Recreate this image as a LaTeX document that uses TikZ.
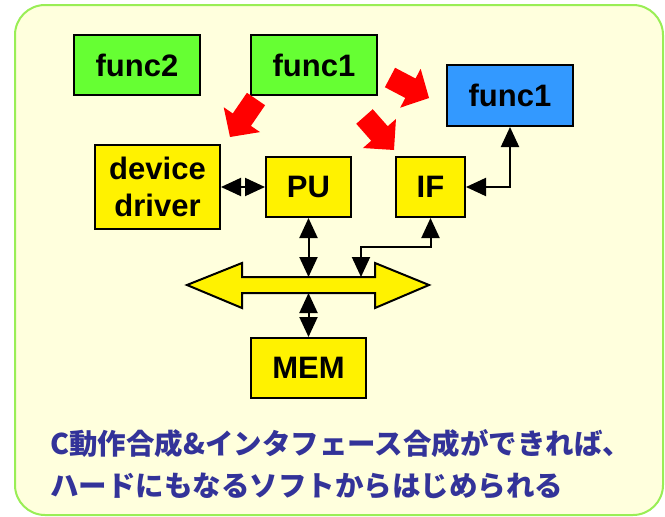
\documentclass[tikz,border=0pt]{standalone}
\usepackage{fontspec}
\setmainfont{Liberation Sans}
\newfontfamily\cjk{Noto Sans CJK JP}
\usetikzlibrary{arrows.meta,calc}
\definecolor{bgyellow}{HTML}{FFFFDD}
\definecolor{frame}{HTML}{99EE55}
\definecolor{fgreen}{HTML}{66FF33}
\definecolor{fblue}{HTML}{3399FF}
\definecolor{jblue}{HTML}{333399}
\newcommand\myredarrow[2]{%
  \coordinate (#1b) at ($(#1p)!#2!(#1t)$);
  \fill[redarr] ($(#1t)!11pt!90:(#1p)$) -- ($(#1b)!11pt!90:(#1p)$) -- ($(#1b)!22pt!90:(#1p)$) -- (#1p) -- ($(#1b)!22pt!-90:(#1p)$) -- ($(#1b)!11pt!-90:(#1p)$) -- ($(#1t)!11pt!-90:(#1p)$) -- cycle;}
\tikzset{
  box/.style={draw=black, line width=2pt, inner sep=0pt, font=\fontsize{31}{37}\selectfont\bfseries, align=center},
  greenbox/.style={box, fill=fgreen},
  bluebox/.style={box, fill=fblue},
  yellowbox/.style={box, fill=yellow},
  conn/.style={line width=2pt, {Triangle[length=20pt,width=18pt]}-{Triangle[length=20pt,width=18pt]}},
  redarr/.style={fill=red},
}
\begin{document}
\begin{tikzpicture}[x=1pt,y=-1pt]
\useasboundingbox (0,0) rectangle (665,517);
\fill[white] (0,0) rectangle (665,517);
\draw[frame, fill=bgyellow, line width=2pt, rounded corners=30pt] (15,5) rectangle (663,515);

\node[greenbox, minimum width=126pt, minimum height=60pt] (f2) at (137,65) {func2};
\node[greenbox, minimum width=126pt, minimum height=60pt] (f1g) at (314,65) {func1};
\node[bluebox, minimum width=126pt, minimum height=61pt] (f1b) at (510,95.5) {func1};
\node[yellowbox, minimum width=125pt, minimum height=84pt] (dd) at (157.5,187) {device\\driver};
\node[yellowbox, minimum width=85pt, minimum height=60pt] (pu) at (308.5,187) {PU};
\node[yellowbox, minimum width=69pt, minimum height=60pt] (if) at (430.5,187) {IF};
\node[yellowbox, minimum width=115pt, minimum height=60pt] (mem) at (308.5,368) {MEM};

% bus
\draw[fill=yellow, line width=2pt, line join=miter]
  (187,285) -- (242,263) -- (242,277) -- (375,277) -- (375,263) -- (429,285)
  -- (375,308) -- (375,293) -- (242,293) -- (242,308) -- cycle;
\coordinate (bustop) at (308.5,277);
\coordinate (busbot) at (308.5,293);
\coordinate (busif) at (361,277);
\coordinate (ifbend1) at (361,247);
\coordinate (ifbend2) at (430.5,247);

% connectors
\draw[conn] (dd.east) -- (pu.west);
\draw[conn] (pu.south) -- (bustop);
\draw[conn] (busbot) -- (mem.north);
\draw[conn] (busif) -- (ifbend1) -- (ifbend2) -- (if.south);
\draw[conn] (if.east) -| (f1b.south);

% red arrows
\coordinate (rat) at (256,99);   \coordinate (rap) at (230,137);
\coordinate (rbt) at (390,77.5); \coordinate (rbp) at (429,98);
\coordinate (rct) at (364.5,116.5); \coordinate (rcp) at (394,150);
\myredarrow{ra}{21pt}
\myredarrow{rb}{21pt}
\myredarrow{rc}{22pt}

\node[anchor=west, align=left, text=jblue, inner sep=0pt,
  font=\cjk\bfseries\fontsize{28.5}{42}\selectfont] (jp) at (50,464)
  {C動作合成\&インタフェース合成ができれば、\\ハードにもなるソフトからはじめられる};
\end{tikzpicture}
\end{document}
